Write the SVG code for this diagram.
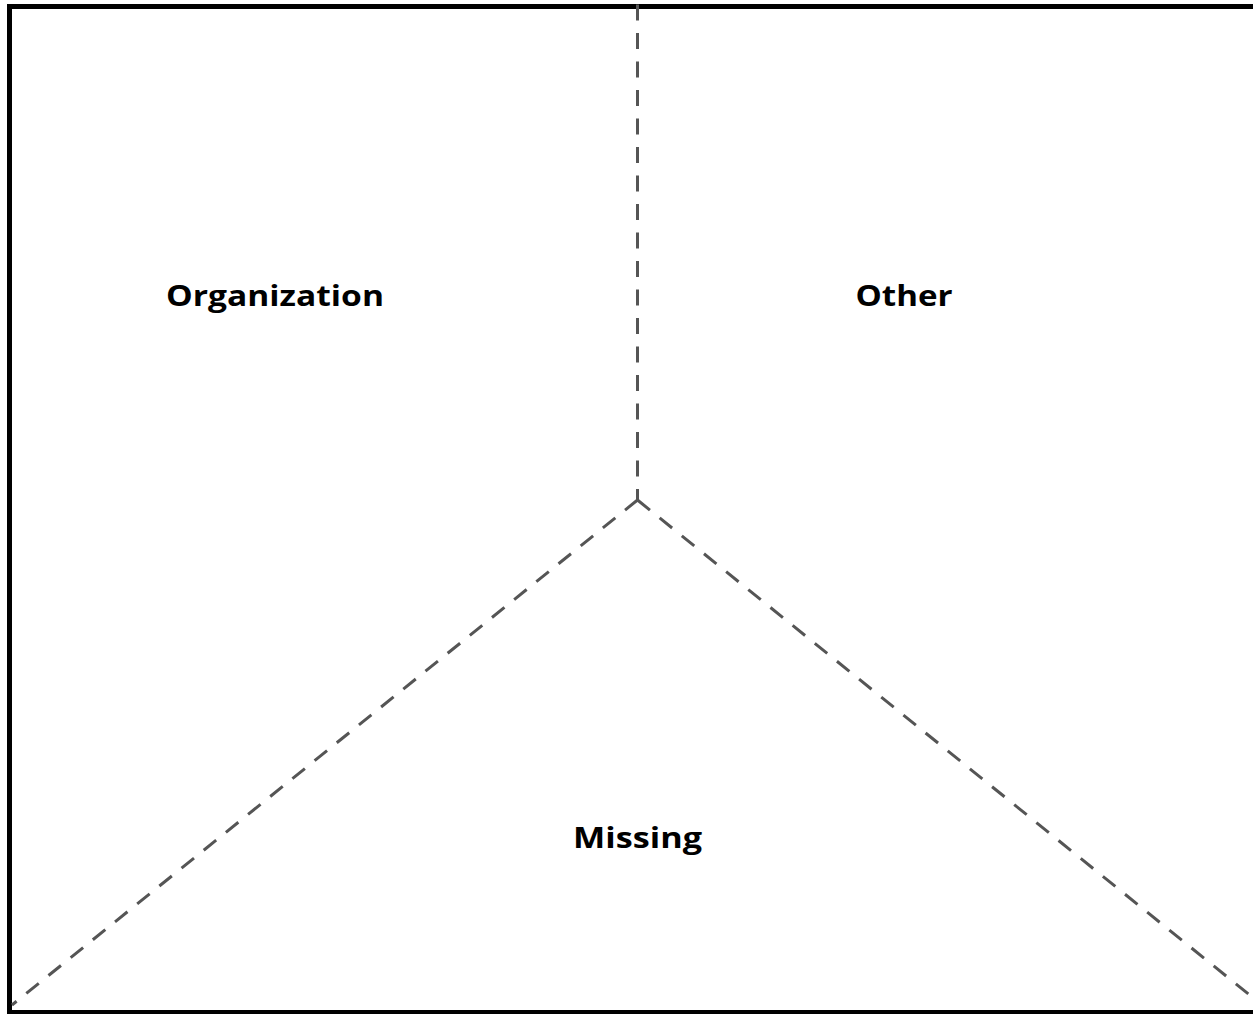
<svg xmlns="http://www.w3.org/2000/svg" width="1253" height="1014" viewBox="0 0 1253 1014">
<style>
.frame{fill:none;stroke:#000;stroke-width:5}
.div{fill:none;stroke:#555;stroke-width:3;stroke-dasharray:16 12.5}
.lbl{font-family:"Open Sans",Lato,sans-serif;font-weight:700;font-size:29px;fill:#000;text-anchor:middle;font-variant-ligatures:none}
</style>
<rect width="1253" height="1014" fill="#fff"/>
<rect class="frame" x="9.5" y="6.5" width="1260" height="1006"/>
<g id="connectors">
<path class="div" d="M637.5 4.5 V500"/>
<path class="div" d="M637.5 500 L12 1005"/>
<path class="div" d="M637.5 500 L1262 1005"/>
</g>
<g id="organization"><text class="lbl" x="275" y="306" textLength="218" lengthAdjust="spacingAndGlyphs">Organization</text></g>
<g id="other"><text class="lbl" x="904" y="306" textLength="97" lengthAdjust="spacingAndGlyphs">Other</text></g>
<g id="missing"><text class="lbl" x="637.5" y="848" textLength="129" lengthAdjust="spacingAndGlyphs">Missing</text></g>
</svg>
